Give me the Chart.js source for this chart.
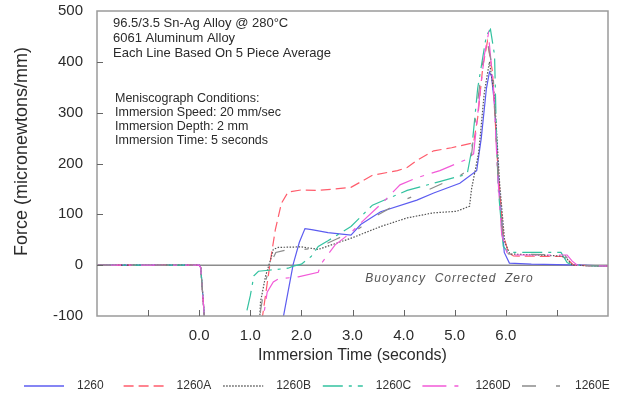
<!DOCTYPE html>
<html>
<head>
<meta charset="utf-8">
<script src="https://cdn.jsdelivr.net/npm/chart.js@4.4.1/dist/chart.umd.min.js"></script>
<style>
  html, body { margin: 0; padding: 0; background: #fff; }
  canvas { display: block; }
</style>
</head>
<body>
<canvas id="meniscographChart" width="619" height="396"></canvas>
<script>
// wetting balance curves, force vs immersion time (s)
const seriesNames = ['1260', '1260A', '1260B', '1260C', '1260D', '1260E'];
const labeledTimes = [0, 1, 2, 3, 4, 5, 6];

const time1260 = [-2, 0, 0.03, 0.06, 0.1, 0.13, 1.62, 1.65, 1.84, 1.96, 2.07, 2.2, 2.52, 2.97, 3.16, 3.55, 4.26, 4.59, 5.1, 5.43, 5.52, 5.62, 5.68, 5.72, 5.78, 5.87, 5.97, 6.07, 6.5, 7.0, 7.5, 8.0];
const force1260 = [0, 0, -5, -45, -100, -180, -180, -100, 2, 45, 72, 70, 64, 59, 80, 105, 128, 142, 161, 186, 250, 347, 380, 372, 316, 153, 25, 4, 2, 1, 0, -2];

const time1260A = [-2, 0, 0.03, 0.06, 0.1, 0.13, 1.2, 1.24, 1.39, 1.49, 1.61, 1.74, 2.0, 2.33, 2.97, 3.39, 3.88, 4.07, 4.26, 4.59, 4.94, 5.37, 5.45, 5.55, 5.64, 5.74, 5.84, 5.95, 6.05, 6.15, 7.1, 7.2, 7.33, 7.6, 8.0];
const force1260A = [0, 0, -5, -45, -100, -180, -180, -100, 6, 70, 122, 144, 148, 147, 153, 177, 186, 192, 206, 225, 231, 241, 290, 390, 440, 380, 200, 60, 25, 18, 17, 12, 0, -1, -2];

const time1260B = [-2, 0, 0.03, 0.06, 0.1, 0.13, 1.15, 1.2, 1.3, 1.4, 1.45, 1.55, 2.0, 2.33, 3.0, 3.55, 4.07, 4.59, 5.04, 5.29, 5.33, 5.47, 5.58, 5.68, 5.78, 5.88, 5.98, 6.08, 7.1, 7.2, 7.3, 7.6, 8.0];
const force1260B = [0, 0, -5, -45, -100, -180, -180, -72, -21, 12, 31, 35, 36, 31, 54, 76, 93, 103, 106, 116, 150, 222, 340, 400, 330, 160, 45, 22, 18, 12, 0, -1, -2];

const time1260C = [-2, 0, 0.03, 0.06, 0.1, 0.13, 0.9, 0.93, 1.0, 1.07, 1.16, 1.36, 1.74, 1.84, 2.0, 2.19, 2.33, 2.52, 2.97, 3.39, 4.07, 4.65, 5.17, 5.25, 5.33, 5.45, 5.62, 5.7, 5.78, 5.81, 5.85, 5.95, 6.05, 7.08, 7.2, 7.3, 7.6, 8.0];
const force1260C = [0, 0, -5, -45, -100, -180, -180, -91, -60, -21, -12, -10, -6, -2, 2, 17, 37, 48, 76, 118, 147, 163, 177, 182, 225, 348, 452, 464, 413, 283, 153, 37, 25, 25, 5, 0, -1, -2];

const time1260D = [-2, 0, 0.03, 0.06, 0.1, 0.13, 1.22, 1.26, 1.33, 1.45, 1.55, 1.94, 2.33, 2.38, 2.66, 2.97, 3.16, 3.62, 3.93, 4.26, 4.71, 5.23, 5.37, 5.47, 5.58, 5.66, 5.76, 5.84, 5.92, 6.02, 6.1, 7.2, 7.3, 7.4, 7.6, 8.0];
const force1260D = [0, 0, -5, -45, -100, -180, -180, -100, -53, -33, -27, -23, -14, 2, 40, 64, 83, 126, 158, 172, 186, 208, 219, 316, 413, 455, 348, 180, 60, 25, 20, 20, 8, 0, -1, -2];

const time1260E = [-2, 0, 0.03, 0.06, 0.1, 0.13, 1.15, 1.2, 1.28, 1.38, 1.5, 1.7, 2.0, 2.33, 2.7, 3.1, 3.43, 4.01, 4.46, 5.1, 5.3, 5.42, 5.55, 5.65, 5.75, 5.85, 5.95, 6.05, 7.15, 7.3, 7.6, 8.0];
const force1260E = [0, 0, -5, -45, -100, -180, -180, -90, -40, 0, 25, 30, 30, 35, 52, 70, 95, 128, 147, 176, 190, 300, 400, 435, 380, 170, 50, 22, 20, 2, -1, -2];

const seriesTimes = [time1260, time1260A, time1260B, time1260C, time1260D, time1260E];
const seriesForces = [force1260, force1260A, force1260B, force1260C, force1260D, force1260E];
const lineColors = ['#5c5cf0', '#ff5c6c', '#555555', '#33c2a0', '#f25ad8', '#8c8c8c'];
const lineDashes = [[], [10, 5], [1.5, 1.5], [20, 6, 3, 6], [24, 8, 4, 8], [14, 20, 4, 20]];

const headerLines = ['96.5/3.5 Sn-Ag Alloy @ 280\u00B0C', '6061 Aluminum Alloy', 'Each Line Based On 5 Piece Average'];
const conditionLines = ['Meniscograph Conditions:', 'Immersion Speed: 20 mm/sec', 'Immersion Depth: 2 mm', 'Immersion Time: 5 seconds'];
const forceTitle = 'Force (micronewtons/mm)';

const textColor = '#2b2b2b';
const fontFamily = '"Liberation Sans", Arial, sans-serif';
Chart.defaults.font.family = fontFamily;

const toPoints = (times, forces) => times.map((t, i) => ({ x: t, y: forces[i] }));

// zero line, plot frame, inward tick marks, notes, y title and legend row
const chartDecorations = {
  id: 'chartDecorations',
  beforeDatasetsDraw(chart) {
    const { ctx, chartArea: a, scales: { y } } = chart;
    const y0 = y.getPixelForValue(0);
    ctx.save();
    ctx.strokeStyle = '#8c8c8c';
    ctx.lineWidth = 1.5;
    ctx.beginPath();
    ctx.moveTo(a.left, y0);
    ctx.lineTo(a.right, y0);
    ctx.stroke();
    ctx.restore();
  },
  afterDatasetsDraw(chart) {
    const { ctx, chartArea: a, scales: { x, y } } = chart;
    ctx.save();

    ctx.strokeStyle = '#9a9a9a';
    ctx.lineWidth = 1.5;
    ctx.strokeRect(a.left, a.top, a.right - a.left, a.bottom - a.top);

    ctx.strokeStyle = '#666';
    ctx.lineWidth = 1;
    ctx.beginPath();
    for (let t = x.min + 1; t < x.max; t++) {
      const px = Math.round(x.getPixelForValue(t)) + 0.5;
      ctx.moveTo(px, a.bottom);
      ctx.lineTo(px, a.bottom - 6);
    }
    for (let f = y.min + 100; f < y.max; f += 100) {
      const py = Math.round(y.getPixelForValue(f)) + 0.5;
      ctx.moveTo(a.left, py);
      ctx.lineTo(a.left + 6, py);
    }
    ctx.stroke();

    ctx.fillStyle = textColor;
    ctx.textBaseline = 'middle';
    ctx.textAlign = 'left';
    ctx.font = '13px ' + fontFamily;
    headerLines.forEach((line, i) => ctx.fillText(line, a.left + 16, a.top + 12 + i * 15));
    ctx.font = '12.5px ' + fontFamily;
    conditionLines.forEach((line, i) => ctx.fillText(line, a.left + 18, a.top + 88 + i * 14));

    ctx.save();
    ctx.fillStyle = '#555';
    ctx.font = 'italic 12px ' + fontFamily;
    ctx.letterSpacing = '1px';
    ctx.fillText('Buoyancy  Corrected  Zero', x.getPixelForValue(3.25), y.getPixelForValue(0) + 13);
    ctx.restore();

    // rotated force title, a little above the plot's middle
    ctx.save();
    ctx.translate(22, (a.top + a.bottom) / 2 - 12);
    ctx.rotate(-Math.PI / 2);
    ctx.textAlign = 'center';
    ctx.font = '18px ' + fontFamily;
    ctx.fillText(forceTitle, 0, 0);
    ctx.restore();

    // legend: one equal slot per series along the bottom
    const slot = 99.6;
    const rowY = 386;
    chart.data.datasets.forEach((ds, i) => {
      const x0 = 24 + i * slot;
      ctx.save();
      ctx.strokeStyle = ds.borderColor;
      ctx.lineWidth = 1.4;
      ctx.setLineDash(ds.borderDash);
      ctx.beginPath();
      ctx.moveTo(x0, rowY);
      ctx.lineTo(x0 + 40, rowY);
      ctx.stroke();
      ctx.setLineDash([]);
      ctx.fillStyle = '#333';
      ctx.font = '12px ' + fontFamily;
      ctx.fillText(ds.label, x0 + 53, rowY);
      ctx.restore();
    });

    ctx.restore();
  }
};

new Chart(document.getElementById('meniscographChart'), {
  type: 'line',
  data: {
    datasets: seriesNames.map((name, i) => ({
      label: name,
      data: toPoints(seriesTimes[i], seriesForces[i]),
      borderColor: lineColors[i],
      backgroundColor: lineColors[i],
      borderDash: lineDashes[i],
      borderWidth: 1.2,
      pointRadius: 0,
      tension: 0,
      fill: false,
      order: seriesNames.length - i
    }))
  },
  options: {
    responsive: false,
    animation: false,
    devicePixelRatio: 1,
    layout: { padding: { left: 8, right: 6, top: 11, bottom: 34 } },
    scales: {
      x: {
        type: 'linear',
        min: -2,
        max: 8,
        ticks: {
          stepSize: 1,
          autoSkip: false,
          maxRotation: 0,
          padding: 11,
          color: textColor,
          font: { size: 15 },
          callback: (v) => (labeledTimes.includes(v) ? v.toFixed(1) : '')
        },
        grid: { display: false, drawTicks: false },
        border: { display: false },
        title: {
          display: true,
          text: 'Immersion Time (seconds)',
          color: textColor,
          font: { size: 16, lineHeight: 0.75 },
          padding: 0
        },
        afterFit(scale) { scale.height = 46; }
      },
      y: {
        min: -100,
        max: 500,
        ticks: { stepSize: 100, padding: 14, color: textColor, font: { size: 15 } },
        grid: { display: false, drawTicks: false },
        border: { display: false },
        afterFit(scale) {
          scale.width = 89;
          scale.paddingTop = 0;
          scale.paddingBottom = 0;
        }
      }
    },
    plugins: {
      legend: { display: false },
      tooltip: { enabled: false }
    }
  },
  plugins: [chartDecorations]
});
</script>
</body>
</html>
